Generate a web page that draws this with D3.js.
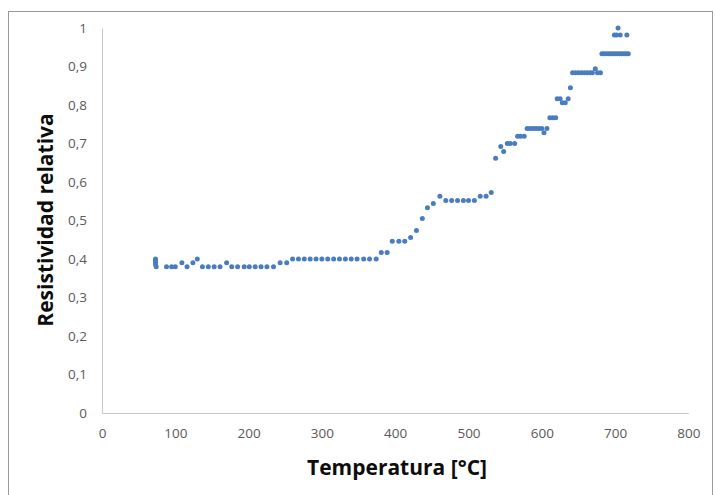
<!DOCTYPE html>
<html>
<head>
<meta charset="utf-8">
<script src="https://cdn.jsdelivr.net/npm/d3@7"></script>
<style>
    body { margin: 0; background: #fff; }
    .axis path { stroke: #c8c8c8; }
    .axis text { font-family: "Open Sans", sans-serif; font-size: 13.5px; fill: #595959; }
    .title { font-family: "Open Sans", sans-serif; font-weight: bold; font-size: 21px; fill: #0d0d0d; }
</style>
</head>
<body>
<svg id="chart" width="715" height="495"></svg>
<script>
"use strict";

// temperatura [°C] and resistividad relativa
const temperatura = [
    73, 73, 73, 73, 74,
    88, 95, 100, 109, 116, 124, 130,
    137, 145, 153, 161, 170,
    177, 185, 194, 201, 209, 217, 225, 234,
    243, 252,
    260, 268, 276, 284, 292, 300, 308, 316, 324, 332, 340, 348, 357, 365, 374,
    381, 389,
    396, 405, 413, 421, 429, 437, 444, 452, 461,
    469, 477, 485, 493, 500, 508,
    516, 524, 531,
    537, 544, 548, 553, 557, 563, 567, 571, 576,
    580, 584, 588, 592, 596, 600,
    603, 607, 611, 615, 619, 621, 625, 628, 632, 636, 639,
    642, 646, 650, 654, 658, 662, 666, 669,
    673, 676, 680,
    682, 685, 688, 691, 694, 697, 700, 703, 706, 709, 712, 715, 718,
    699, 702, 707, 704, 716
];
const resistividad = [
    0.40, 0.395, 0.39, 0.385, 0.38,
    0.38, 0.38, 0.38, 0.39, 0.38, 0.39, 0.40,
    0.38, 0.38, 0.38, 0.38, 0.39,
    0.38, 0.38, 0.38, 0.38, 0.38, 0.38, 0.38, 0.38,
    0.39, 0.39,
    0.40, 0.40, 0.40, 0.40, 0.40, 0.40, 0.40, 0.40, 0.40, 0.40, 0.40, 0.40, 0.40, 0.40, 0.40,
    0.417, 0.417,
    0.446, 0.446, 0.446, 0.456, 0.474, 0.505, 0.533, 0.544, 0.563,
    0.552, 0.552, 0.552, 0.552, 0.552, 0.552,
    0.563, 0.563, 0.573,
    0.662, 0.692, 0.679, 0.70, 0.70, 0.70, 0.719, 0.719, 0.719,
    0.739, 0.739, 0.739, 0.739, 0.739, 0.739,
    0.728, 0.739, 0.767, 0.767, 0.767, 0.816, 0.816, 0.806, 0.806, 0.816, 0.845,
    0.884, 0.884, 0.884, 0.884, 0.884, 0.884, 0.884, 0.884,
    0.894, 0.884, 0.884,
    0.933, 0.933, 0.933, 0.933, 0.933, 0.933, 0.933, 0.933, 0.933, 0.933, 0.933, 0.933, 0.933,
    0.982, 0.982, 0.982, 1.0, 0.982
];

const xTicks = [0, 100, 200, 300, 400, 500, 600, 700, 800];
const yTicks = [0, 0.1, 0.2, 0.3, 0.4, 0.5, 0.6, 0.7, 0.8, 0.9, 1];

const data = temperatura.map((t, i) => ({t: t, r: resistividad[i]}));
const es = d3.formatLocale({decimal: ",", thousands: ".", grouping: [3], currency: ["", "€"]});

const svg = d3.select("#chart"),
    margin = {top: 28, right: 26.6, bottom: 82, left: 102},
    width = +svg.attr("width") - margin.left - margin.right,
    height = +svg.attr("height") - margin.top - margin.bottom,
    x = d3.scaleLinear().domain([0, 800]).range([0, width]),
    y = d3.scaleLinear().domain([0, 1]).range([height, 0]);

// chart area border
svg.append("rect")
    .attr("x", 8.5).attr("y", 11.5)
    .attr("width", 704).attr("height", 500)
    .attr("fill", "none")
    .attr("stroke", "#9a9a9a");

const g = svg.append("g")
    .attr("transform", `translate(${margin.left},${margin.top})`);

g.append("g")
    .attr("class", "axis axis-x")
    .attr("transform", `translate(0,${height})`)
    .call(d3.axisBottom(x).tickValues(xTicks).tickSize(0).tickPadding(15).tickFormat(d3.format("d")))
    .call(a => a.select(".domain").attr("stroke", "#c8c8c8"));

g.append("g")
    .attr("class", "axis axis-y")
    .call(d3.axisLeft(y).tickValues(yTicks).tickSize(0).tickPadding(15).tickFormat(es.format("~g")))
    .call(a => a.select(".domain").attr("stroke", "#c8c8c8"));

g.selectAll(".dot")
    .data(data)
    .enter().append("circle")
    .attr("class", "dot")
    .attr("cx", d => x(d.t))
    .attr("cy", d => y(d.r))
    .attr("r", 2.5)
    .attr("fill", "#4a7dc0");

svg.append("text")
    .attr("class", "title")
    .attr("x", 397).attr("y", 475)
    .attr("text-anchor", "middle")
    .text("Temperatura [°C]");

svg.append("text")
    .attr("class", "title")
    .attr("transform", "translate(53,220) rotate(-90)")
    .attr("text-anchor", "middle")
    .text("Resistividad relativa");
</script>
</body>
</html>
